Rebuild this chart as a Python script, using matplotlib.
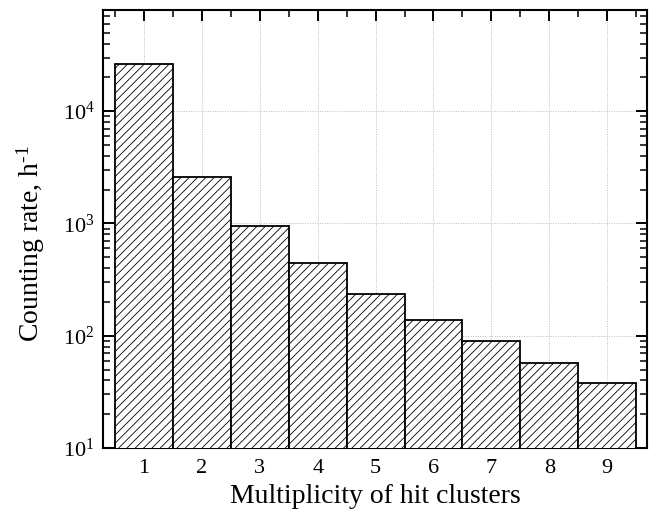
import numpy as np
import matplotlib.pyplot as plt
from matplotlib.ticker import FixedLocator, NullFormatter

# data
multiplicity = [1, 2, 3, 4, 5, 6, 7, 8, 9]
rate = [26100, 2610, 955, 446, 236, 139, 89, 57.4, 38.3]

plt.rcParams['font.family'] = ['Liberation Serif', 'DejaVu Serif']
plt.rcParams['hatch.linewidth'] = 0.6
plt.rcParams['mathtext.fontset'] = 'custom'
plt.rcParams['mathtext.rm'] = 'Liberation Serif'
plt.rcParams['mathtext.it'] = 'Liberation Serif:italic'

fig = plt.figure(figsize=(6.59, 5.18), dpi=100)
ax = fig.add_axes([103 / 659, 1 - 448 / 518, (647 - 103) / 659, (448 - 9.5) / 518])

ax.bar(multiplicity, rate, width=1.0, bottom=0, color='white', edgecolor='black',
       linewidth=1.3, hatch='////', zorder=3)

ax.set_yscale('log')
ax.set_ylim(10, 8.05e4)
ax.set_xlim(0.29, 9.69)

ax.set_xticks(multiplicity)
ax.xaxis.set_minor_locator(FixedLocator(np.arange(0.5, 10, 1.0)))
ax.set_yticks([10, 100, 1000, 10000])
ax.set_yticklabels(['$\\mathrm{10^{1}}$', '$\\mathrm{10^{2}}$', '$\\mathrm{10^{3}}$', '$\\mathrm{10^{4}}$'])
minor_y = [m * 10.0 ** d for d in range(1, 5) for m in range(2, 10)]
ax.yaxis.set_minor_locator(FixedLocator(minor_y))
ax.yaxis.set_minor_formatter(NullFormatter())

ax.tick_params(which='both', direction='in', top=True, right=True, labelsize=16)
ax.tick_params(which='major', length=8, width=1.4)
ax.tick_params(which='minor', length=5, width=1.1)
ax.tick_params(axis='x', pad=8)
ax.tick_params(axis='y', pad=6)

ax.grid(True, which='major', color='#bbbbbb', linestyle=(0, (1, 1.5)), linewidth=0.7, zorder=0)
ax.set_axisbelow(True)

for s in ax.spines.values():
    s.set_linewidth(1.5)

ax.set_xlabel('Multiplicity of hit clusters', fontsize=20, labelpad=4)
ax.set_ylabel('Counting rate, h$^{\\mathrm{\u20101}}$', fontsize=20)
ax.yaxis.set_label_coords(-0.103, 0.467)

fig.savefig('out.png', dpi=100)
